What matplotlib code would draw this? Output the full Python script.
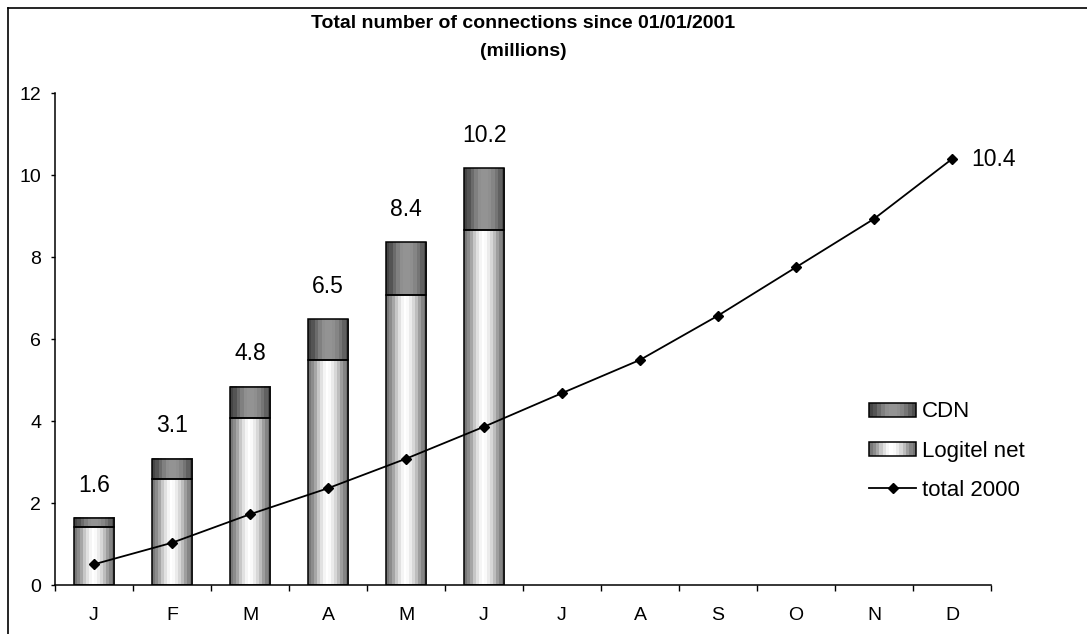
import numpy as np
import matplotlib
matplotlib.use("Agg")
import matplotlib.pyplot as plt
from matplotlib.patches import Rectangle
from matplotlib.lines import Line2D
from matplotlib.legend_handler import HandlerBase

plt.rcParams['font.family'] = ['Liberation Sans', 'DejaVu Sans']

months = ["J", "F", "M", "A", "M", "J", "J", "A", "S", "O", "N", "D"]
logitel = [1.41, 2.59, 4.08, 5.49, 7.07, 8.66]
cdn = [0.22, 0.49, 0.76, 1.00, 1.29, 1.51]
total_2000 = [0.505, 1.03, 1.725, 2.36, 3.08, 3.86, 4.68, 5.49, 6.57, 7.75, 8.93, 10.39]

# banded horizontal gradients (grey levels, left to right)
logitel_grad = [0.47, 0.55, 0.65, 0.78, 0.88, 0.96, 1.0, 0.98, 0.92, 0.84, 0.74, 0.62, 0.52, 0.45]
cdn_grad = [0.27, 0.33, 0.42, 0.50, 0.56, 0.58, 0.58, 0.56, 0.52, 0.46, 0.38, 0.30]


class GradientHandler(HandlerBase):
    def __init__(self, levels):
        super().__init__()
        self.levels = levels

    def create_artists(self, legend, orig_handle, xdescent, ydescent,
                       width, height, fontsize, trans):
        n = len(self.levels)
        arts = []
        for i, g in enumerate(self.levels):
            arts.append(Rectangle((-xdescent + i * width / n, -ydescent), width / n, height,
                                  facecolor=str(g), edgecolor='none', transform=trans))
        arts.append(Rectangle((-xdescent, -ydescent), width, height, fill=False,
                              edgecolor='black', lw=1.1, transform=trans))
        return arts


fig = plt.figure(figsize=(10.87, 6.34), dpi=100)
ax = fig.add_axes([55 / 1087, 49 / 634, 936 / 1087, 492 / 634])

x = np.arange(len(months))
xb = x[:len(logitel)]
width = 0.52

bars_l = ax.bar(xb, logitel, width, facecolor='none', edgecolor='black', lw=1.1, zorder=3)
bars_c = ax.bar(xb, cdn, width, bottom=logitel, facecolor='none', edgecolor='black', lw=1.1, zorder=3)

for bars, grad in ((bars_l, logitel_grad), (bars_c, cdn_grad)):
    for b in bars:
        x0, y0 = b.get_x(), b.get_y()
        ax.imshow(np.array([grad]), extent=[x0, x0 + b.get_width(), y0, y0 + b.get_height()],
                  aspect='auto', cmap='gray', vmin=0, vmax=1, interpolation='nearest', zorder=2)

ax.plot(x, total_2000, color='black', lw=1.3, marker='D', markersize=5, zorder=4)

totals = np.array(logitel) + np.array(cdn)
for xi, t in zip(xb, totals):
    ax.annotate(f"{t:.1f}", (xi, t), xytext=(0, 19), textcoords='offset points',
                ha='center', va='baseline', fontsize=16.5)
ax.annotate(f"{total_2000[-1]:.1f}", (x[-1], total_2000[-1]), xytext=(14, 0),
            textcoords='offset points', ha='left', va='center', fontsize=16.5)

ax.set_xlim(-0.5, len(months) - 0.5)
ax.set_ylim(0, 12)
ax.set_yticks(range(0, 13, 2))
ax.set_xticks(x)
ax.set_xticklabels(months)
ax.set_xticks(np.arange(-0.5, len(months)), minor=True)
ax.tick_params(axis='x', which='major', length=0, pad=15.5, labelsize=14)
ax.tick_params(axis='x', which='minor', length=4, width=1, direction='out')
ax.tick_params(axis='y', length=3, width=1, pad=7, labelsize=14)
for s in ('top', 'right'):
    ax.spines[s].set_visible(False)
for s in ('left', 'bottom'):
    ax.spines[s].set_linewidth(1.1)

h_cdn = Rectangle((0, 0), 1, 1)
h_log = Rectangle((0, 0), 1, 1)
h_line = Line2D([], [], color='black', lw=1.3, marker='D', markersize=5)
ax.legend([h_cdn, h_log, h_line], ["CDN", "Logitel net", "total 2000"],
          handler_map={h_cdn: GradientHandler(cdn_grad), h_log: GradientHandler(logitel_grad)},
          loc='upper left', bbox_to_anchor=(0.87, 0.373), frameon=False, fontsize=16,
          handlelength=2.1, handleheight=0.6, handletextpad=0.25, labelspacing=0.82,
          borderpad=0, borderaxespad=0)

fig.text(523 / 1087, 1 - 24 / 634, "Total number of connections since 01/01/2001",
         ha='center', va='center', fontsize=14, fontweight='bold')
fig.text(523 / 1087, 1 - 52 / 634, "(millions)", ha='center', va='center',
         fontsize=14, fontweight='bold')

# outer chart frame (only left and top edges visible in the crop)
fig.add_artist(Line2D([8 / 1087, 8 / 1087], [0, 1 - 8 / 634], color='black', lw=1.2,
                      transform=fig.transFigure))
fig.add_artist(Line2D([8 / 1087, 1], [1 - 8 / 634, 1 - 8 / 634], color='black', lw=1.2,
                      transform=fig.transFigure))

fig.savefig("out.png", dpi=100)
